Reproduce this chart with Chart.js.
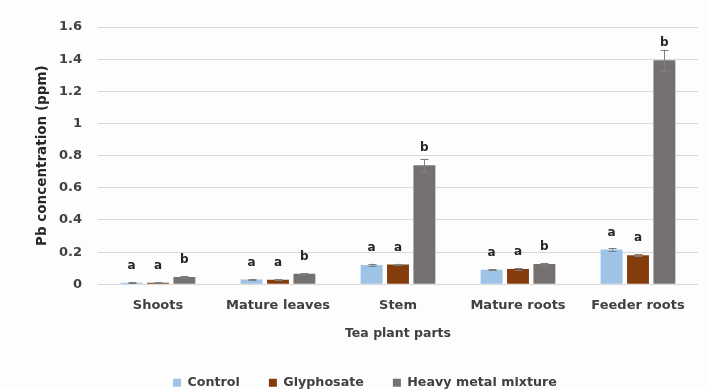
<!DOCTYPE html>
<html><head><meta charset="utf-8">
<script src="https://cdn.jsdelivr.net/npm/chart.js@4.4.0/dist/chart.umd.min.js"></script>
<style>html,body{margin:0;padding:0;background:#fdfdfd}#w{width:709px;height:389px}</style>
</head><body><div id="w"><canvas id="c" width="709" height="389"></canvas></div>
<script>
const categories = ["Shoots","Mature leaves","Stem","Mature roots","Feeder roots"];
const seriesNames = ["Control","Glyphosate","Heavy metal mixture"];
const control = [0.010, 0.030, 0.120, 0.090, 0.217];
const glyphosate = [0.010, 0.028, 0.123, 0.095, 0.180];
const heavyMetal = [0.045, 0.065, 0.740, 0.127, 1.394];
const controlErr = [0.003, 0.003, 0.008, 0.003, 0.008];
const glyphosateErr = [0.003, 0.003, 0.005, 0.004, 0.006];
const heavyMetalErr = [0.005, 0.004, 0.040, 0.006, 0.065];
const controlLetters = ["a","a","a","a","a"];
const glyphosateLetters = ["a","a","a","a","a"];
const heavyMetalLetters = ["b","b","b","b","b"];
const yTicks = [0,0.2,0.4,0.6,0.8,1,1.2,1.4,1.6];

const FONT = "'DejaVu Sans', sans-serif";
const errs = [controlErr, glyphosateErr, heavyMetalErr];
const letters = [controlLetters, glyphosateLetters, heavyMetalLetters];

const annot = {
  id:'annot',
  afterDatasetsDraw(chart){
    const ctx = chart.ctx, y = chart.scales.y;
    chart.data.datasets.forEach((ds,di)=>{
      const meta = chart.getDatasetMeta(di);
      meta.data.forEach((bar,i)=>{
        const v = ds.data[i], e = errs[di][i];
        const yt = y.getPixelForValue(v+e), yb = y.getPixelForValue(v-e);
        const cx = Math.round(bar.x)+0.5;
        ctx.save();
        ctx.strokeStyle = '#7f7f7f'; ctx.lineWidth = 1;
        ctx.beginPath();
        ctx.moveTo(cx, yt); ctx.lineTo(cx, yb);
        ctx.moveTo(cx-4, Math.round(yt)+0.5); ctx.lineTo(cx+4, Math.round(yt)+0.5);
        ctx.moveTo(cx-4, Math.round(yb)+0.5); ctx.lineTo(cx+4, Math.round(yb)+0.5);
        ctx.stroke();
        ctx.fillStyle = '#262626';
        ctx.font = "bold 12px " + FONT;
        ctx.textAlign='center'; ctx.textBaseline='middle';
        ctx.fillText(letters[di][i], bar.x, y.getPixelForValue(v) - 17);
        ctx.restore();
      });
    });
  }
};

const legendShift = {id:'legendShift', afterLayout(chart){ if(chart.legend){ chart.legend.left += 16; chart.legend.right += 16; } }};

const bg = {id:'bg', beforeDraw(chart){const c=chart.ctx;c.save();c.fillStyle='#fdfdfd';c.fillRect(0,0,chart.width,chart.height);c.restore();}};

new Chart(document.getElementById('c'), {
  type:'bar',
  data:{
    labels: categories,
    datasets:[
      {label:seriesNames[0], data:control, backgroundColor:'#9dc3e6'},
      {label:seriesNames[1], data:glyphosate, backgroundColor:'#843c0c'},
      {label:seriesNames[2], data:heavyMetal, backgroundColor:'#767171'}
    ]
  },
  options:{
    responsive:false, animation:false,
    devicePixelRatio:1,
    categoryPercentage:0.66, barPercentage:0.83,
    layout:{padding:{left:0,right:11,top:27,bottom:-10}},
    plugins:{
      tooltip:{enabled:false},
      legend:{position:'bottom', labels:{boxWidth:8, boxHeight:8, padding:29, color:'#404040', font:{family:FONT, size:12.7, weight:'bold'}}}
    },
    scales:{
      x:{
        grid:{display:false}, border:{display:false},
        ticks:{color:'#404040', padding:6, font:{family:FONT,size:13,weight:'bold'}},
        title:{display:true, text:'Tea plant parts', color:'#404040', padding:{top:6,bottom:6}, font:{family:FONT,size:12.5,weight:'bold'}},
        afterFit(s){ s.height = 63; }
      },
      y:{
        min:0, max:1.6,
        afterBuildTicks(s){ s.ticks = yTicks.map(v=>({value:v})); },
        grid:{color:'#d9d9d9', drawTicks:false}, border:{display:false},
        ticks:{color:'#404040', padding:16, font:{family:FONT,size:13,weight:'bold'}, callback:(v)=>String(Math.round(v*10)/10)},
        title:{display:true, text:'Pb concentration (ppm)', color:'#262626', padding:{top:34,bottom:8}, font:{family:FONT,size:13.5,weight:'bold'}},
        afterFit(s){ s.width = 98; }
      }
    }
  },
  plugins:[bg, annot, legendShift]
});
</script></body></html>
